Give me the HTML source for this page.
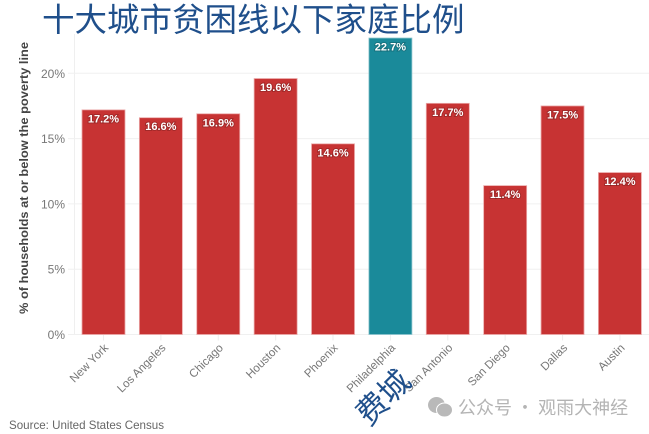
<!DOCTYPE html>
<html>
<head>
<meta charset="utf-8">
<style>
html,body{margin:0;padding:0;background:#fff;width:649px;height:434px;overflow:hidden}
svg{display:block}
text{font-family:"Liberation Sans","Noto Sans CJK SC",sans-serif}
</style>
</head>
<body>
<svg id="chart" width="649" height="434" viewBox="0 0 649 434" xmlns="http://www.w3.org/2000/svg">
<text x="42" y="31" font-size="32.5" fill="#1f4f8b" style="font-family:'Noto Sans CJK SC',sans-serif">十大城市贫困线以下家庭比例</text>
<g id="grid"></g>
<g id="bars"></g>
<g id="labels"></g>
<text transform="translate(28,178) rotate(-90)" text-anchor="middle" font-size="12" font-weight="bold" fill="#444" textLength="272" lengthAdjust="spacingAndGlyphs">% of households at or below the poverty line</text>
<text transform="translate(369,427) rotate(-45)" font-size="31" fill="#1f4f8b" style="font-family:'Noto Sans CJK SC',sans-serif">费城</text>
<text x="9" y="429" font-size="12" fill="#666" textLength="155" lengthAdjust="spacingAndGlyphs">Source: United States Census</text>
<g fill="#b9b9b9">
<ellipse cx="436.5" cy="405" rx="8.5" ry="8"/>
<ellipse cx="444.5" cy="410" rx="8" ry="7" stroke="#fff" stroke-width="1"/>
</g>
<text x="458" y="414" font-size="18" fill="#b4b4b4" style="font-family:'Noto Sans CJK SC',sans-serif">公众号 · 观雨大神经</text>
</svg>
<script>
const categories = ["New York","Los Angeles","Chicago","Houston","Phoenix","Philadelphia","San Antonio","San Diego","Dallas","Austin"];
const values = [17.2,16.6,16.9,19.6,14.6,22.7,17.7,11.4,17.5,12.4];
const yTicks = [0,5,10,15,20];
const highlighted = "Philadelphia";

const NS = "http://www.w3.org/2000/svg";
const xScale = i => 103.5 + 57.38 * i;
const yScale = v => 334.5 - 13.06 * v;
const BAR_W = 43;

function make(tag, attrs, parent, text){
  const el = document.createElementNS(NS, tag);
  for (const k in attrs) el.setAttribute(k, attrs[k]);
  if (text !== undefined) el.textContent = text;
  parent.appendChild(el);
  return el;
}
const grid = document.getElementById("grid");
const bars = document.getElementById("bars");
const labels = document.getElementById("labels");

const yLine = make("line", {x1:74.5, x2:74.5, y1:yScale(0), y2:34, stroke:"#efefef", "stroke-width":1}, grid);



yTicks.forEach(t => {
  const y = yScale(t);
  const line = make("line", {x1:68, x2:649, y1:y, y2:y, stroke:"#f0f0f0", "stroke-width":1}, grid);
  
  
  const label = make("text", {x:65, y:y+4.5, "text-anchor":"end", "font-size":12, fill:"#777"}, grid, t + "%");
  
  
});

categories.forEach((c, i) => {
  const x = xScale(i);
  const v = values[i];
  const top = yScale(v);
  const tick = make("line", {x1:x, x2:x, y1:yScale(0), y2:yScale(0)+6, stroke:"#eeeeee", "stroke-width":1}, grid);
  
  
  const isHi = c === highlighted;
  const bar = make("rect", {x:x-BAR_W/2, y:top, width:BAR_W, height:yScale(0)-top,
    fill:isHi ? "#1a8a9a" : "#c73333",
    stroke:isHi ? "#8cc4cd" : "#eba9a9", "stroke-width":0.8}, bars);
  
  
  const val = make("text", {x:x, y:top+12.5, "text-anchor":"middle", "font-size":11, "font-weight":"bold", fill:"#fff",
    stroke:"rgba(0,0,0,0.18)", "stroke-width":2, "paint-order":"stroke"}, bars, v.toFixed(1) + "%");
  
  
  const px = x + 5.5, py = yScale(0) + 14;
  const cat = make("text", {transform:`translate(${px},${py}) rotate(-45)`, "text-anchor":"end", "font-size":11.6, fill:"#777"}, labels, c);
  
  
});
</script>
</body>
</html>
